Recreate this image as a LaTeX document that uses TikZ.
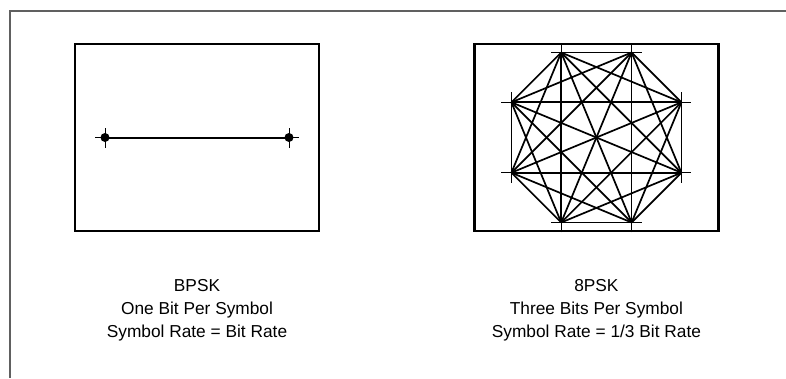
\documentclass[tikz,border=0pt]{standalone}
\usepackage{fontspec}
\setmainfont{Liberation Sans}
\usetikzlibrary{positioning}
\definecolor{framegray}{HTML}{606060}

\begin{document}
\begin{tikzpicture}[
    x=1pt, y=-1pt,
    node distance=47pt and 153pt,
    panel/.style={draw, line width=2.4pt, minimum width=244pt, minimum height=187pt, inner sep=0pt},
    dot/.style={circle, fill=black, inner sep=0pt, minimum size=9pt},
    tick/.style={line width=1pt},
    edge/.style={line width=1.7pt},
    caption/.style={font=\fontsize{17.3}{23}\selectfont, align=center, inner sep=0pt},
]
\useasboundingbox (0,0) rectangle (786,378);

% outer frame (top and left edges only)
\draw[framegray, line width=1.3pt] (786,11) -| (10,378);

% ============================================================
% BPSK (left)
% ============================================================
\node[panel] (bpsk-box) at (197,137.5) {};
\coordinate (b1) at ([xshift=-92pt]bpsk-box.center);
\coordinate (b2) at ([xshift=92pt]bpsk-box.center);
\draw[line width=2pt] (b1) -- (b2);
\node[dot] (b1dot) at (b1) {};
\node[dot] (b2dot) at (b2) {};

\node[caption, below=of bpsk-box] (bpsk-text) {BPSK\\One Bit Per Symbol\\Symbol Rate = Bit Rate};

% ============================================================
% 8PSK (right)
% ============================================================
\node[panel, right=of bpsk-box] (psk8-box) {};
\foreach \i in {1,...,8}
    \coordinate (q\i) at ([shift={(22.5+45*\i:92pt)}]psk8-box.center);

% every point joined to every other one
\foreach \i in {1,...,7}{
    \pgfmathtruncatemacro\k{\i+1}
    \foreach \j in {\k,...,8}
        \draw[edge] (q\i) -- (q\j);
}

\node[caption, below=of psk8-box] (psk8-text) {8PSK\\Three Bits Per Symbol\\Symbol Rate = 1/3 Bit Rate};

% crosshair ticks on the constellation points
\foreach \p in {b1,b2,q1,q2,q3,q4,q5,q6,q7,q8}
    \draw[tick] ([xshift=-10pt]\p) -- ([xshift=10pt]\p)
                ([yshift=-10pt]\p) -- ([yshift=10pt]\p);

\end{tikzpicture}
\end{document}
